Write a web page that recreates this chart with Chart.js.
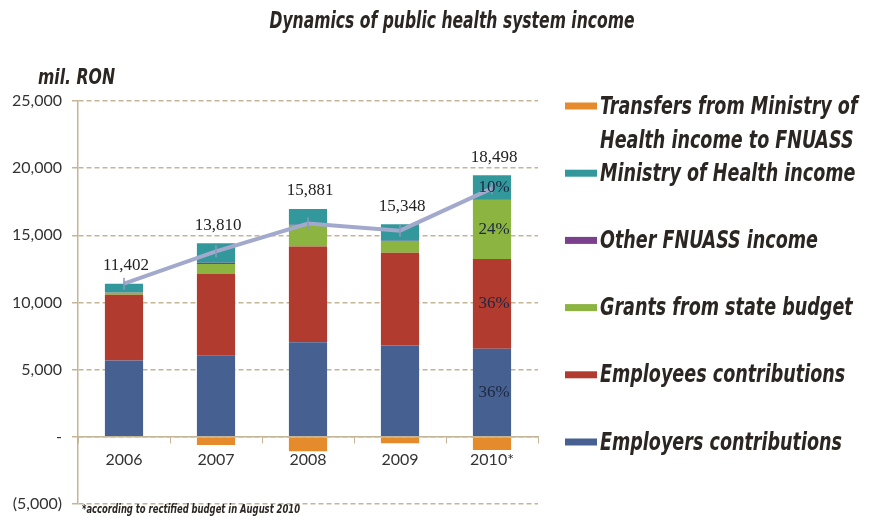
<!DOCTYPE html>
<html><head><meta charset="utf-8">
<script src="https://cdn.jsdelivr.net/npm/chart.js@4"></script>
<style>html,body{margin:0;padding:0;background:#fff}</style>
</head><body>
<canvas id="c" width="869" height="517"></canvas>
<script>
const categories = ['2006', '2007', '2008', '2009', '2010*'];
const employers = [5680, 6030, 7050, 6800, 6550];
const employees = [4890, 6100, 7110, 6910, 6690];
const grants = [150, 740, 1600, 860, 4390];
const otherFnuass = [20, 90, 20, 20, 20];
const ministryIncome = [660, 1450, 1180, 1230, 1830];
const transfers = [0, -600, -1080, -472, -982];
const totals = [11402, 13810, 15881, 15348, 18498];
const totalLabels = ['11,402', '13,810', '15,881', '15,348', '18,498'];
const shares2010 = ['36%', '36%', '24%', '', '10%', ''];
const yTickLabels = ['(5,000)', '-', '5,000', '10,000', '15,000', '20,000', '25,000'];
const seriesNames = ['Employers contributions', 'Employees contributions', 'Grants from state budget',
  'Other FNUASS income', 'Ministry of Health income', 'Transfers from Ministry of Health income to FNUASS'];
const seriesColors = ['#466191', '#b23b30', '#8bb441', '#7a3f8d', '#33989c', '#e68b2b'];
const seriesValues = [employers, employees, grants, otherFnuass, ministryIncome, transfers];

const TAN = '#c4b597';
const CONDENSED = '"Liberation Sans Narrow", "DejaVu Sans Condensed", "Roboto Condensed", sans-serif';

const barSets = seriesValues.map((vals, i) => ({
  type: 'bar', label: seriesNames[i], data: vals, backgroundColor: seriesColors[i],
  borderWidth: 0, order: 1, barPercentage: 0.83, categoryPercentage: 0.5
}));

function squeezed(ctx, text, x, y, sx, align) {
  const w = ctx.measureText(text).width * sx;
  let x0 = x;
  if (align === 'center') x0 = x - w / 2;
  ctx.save();
  ctx.translate(x0, y);
  ctx.scale(sx, 1);
  ctx.textAlign = 'left';
  ctx.fillText(text, 0, 0);
  ctx.restore();
}

const textPlugin = {
  id: 'texts',
  afterDraw(chart) {
    const ctx = chart.ctx;
    ctx.save();
    ctx.fillStyle = '#2b2622';
    ctx.textBaseline = 'middle';
    ctx.font = 'italic bold 23px ' + CONDENSED;
    let t = 'Dynamics of public health system income';
    squeezed(ctx, t, 452, 22, 365 / ctx.measureText(t).width, 'center');
    ctx.font = 'italic bold 22px ' + CONDENSED;
    t = 'mil. RON';
    squeezed(ctx, t, 38, 78, 77 / ctx.measureText(t).width, 'left');
    ctx.font = 'italic bold 13px ' + CONDENSED;
    t = '*according to rectified budget in August 2010';
    squeezed(ctx, t, 82, 510, 218 / ctx.measureText(t).width, 'left');

    const topMeta = chart.getDatasetMeta(4);
    ctx.font = '17px "Liberation Serif", "DejaVu Serif", serif';
    ctx.fillStyle = '#222';
    ctx.textAlign = 'center';
    topMeta.data.forEach((el, i) => {
      ctx.fillText(totalLabels[i], el.x + 2, el.y - 18);
    });
    ctx.fillStyle = '#1e2740';
    shares2010.forEach((s, d) => {
      if (!s) return;
      const el = chart.getDatasetMeta(d).data[categories.length - 1];
      ctx.fillText(s, el.x + 2, (el.y + el.base) / 2);
    });

    ctx.font = 'italic bold 25px ' + CONDENSED;
    ctx.textAlign = 'left';
    const sx = 242 / ctx.measureText('Employers contributions').width;
    for (let k = 0; k < 6; k++) {
      const d = 5 - k;
      const yc = 106 + k * 67.2;
      ctx.fillStyle = seriesColors[d];
      ctx.fillRect(565, yc - 3.5, 32, 7);
      ctx.fillStyle = '#2b2622';
      const words = seriesNames[d].split(' ');
      const lines = [];
      let cur = '';
      words.forEach(w => {
        const tt = cur ? cur + ' ' + w : w;
        if (ctx.measureText(tt).width * sx > 265 && cur) { lines.push(cur); cur = w; } else cur = tt;
      });
      lines.push(cur);
      lines.forEach((ln, j) => squeezed(ctx, ln, 600, yc + 1 + j * 34, sx, 'left'));
    }
    ctx.restore();
  }
};

new Chart(document.getElementById('c'), {
  data: {
    labels: categories,
    datasets: [
      ...barSets,
      {
        type: 'line', label: 'Total', data: totals, borderColor: '#a2a9cc', borderWidth: 4,
        pointStyle: 'line', pointRotation: 90, pointRadius: 6, pointBorderWidth: 1.5,
        pointBorderColor: '#8e97be', order: 0, tension: 0, fill: false
      }
    ]
  },
  options: {
    responsive: false,
    animation: false,
    devicePixelRatio: 1,
    layout: { padding: { left: 0, top: 101, right: 331, bottom: 13 } },
    plugins: { legend: { display: false }, tooltip: { enabled: false }, title: { display: false } },
    scales: {
      x: {
        stacked: true,
        position: { y: 0 },
        afterFit(scale) { scale.height = 0; scale.paddingLeft = 0; scale.paddingRight = 0; },
        grid: { display: true, drawOnChartArea: false, drawTicks: true, tickLength: 6, color: TAN, tickColor: TAN, offset: true },
        border: { display: true, color: TAN, width: 1.5 },
        ticks: { color: '#333', font: { family: 'Lato, "Open Sans", sans-serif', size: 16 }, padding: 7 }
      },
      y: {
        stacked: true,
        min: -5000, max: 25000,
        afterFit(scale) { scale.width = 78; scale.paddingTop = 0; scale.paddingBottom = 0; },
        grid: { color: TAN, lineWidth: 1.5, tickLength: 6, tickColor: TAN, tickWidth: 1.5 },
        border: { display: true, color: TAN, width: 1.5, dash: [5, 3] },
        ticks: {
          stepSize: 5000, color: '#333', padding: 10,
          font: { family: 'Lato, "Open Sans", sans-serif', size: 16 },
          callback: (v, i) => yTickLabels[i]
        }
      }
    }
  },
  plugins: [textPlugin]
});
</script>
</body></html>
